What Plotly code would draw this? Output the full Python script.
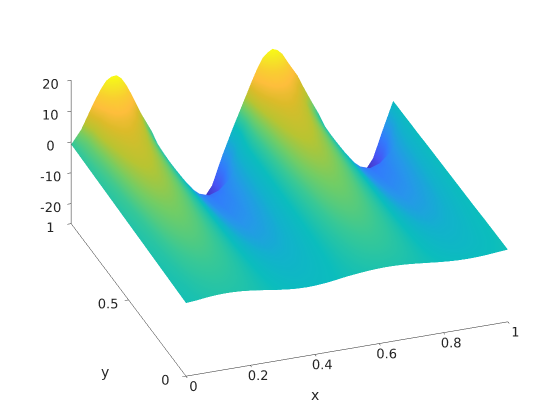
import plotly.graph_objects as go

x_values = [0, .03125, .0625, .078, .09375, .109, .125, .141, .15625, .172, .1875, .203, .21875, .25,
            .28125, .3125, .34375, .375, .40625, .4375, .46875, .5, .53125, .5625, .578, .59375, .609,
            .625, .641, .65625, .672, .6875, .703, .71875, .75, .78125, .8125, .84375, .875, .90625,
            .9375, .96875, 1]
y_values = [0, 0.1, 0.2, 0.3, 0.4, 0.5, 0.6, 0.7, 0.8, 0.85, 0.9, 0.95, 1]
z_rows = [
    [-2.8, -2.54, -2.15, -2, -1.9, -1.82, -1.8, -1.82, -1.9, -2, -2.15, -2.33, -2.54, -3, -3.49, -3.92, -4.2, -4.3, -4.2, -3.92, -3.49, -3, -2.66, -2.36, -2.25, -2.17, -2.12, -2.1, -2.12, -2.17, -2.25, -2.36, -2.5, -2.66, -3, -3.34, -3.64, -3.83, -3.9, -3.83, -3.64, -3.34, -3.1],
    [-2.6, -2.24, -1.58, -1.34, -1.16, -1.04, -1, -1.04, -1.16, -1.34, -1.58, -1.88, -2.24, -3, -3.84, -4.56, -5.02, -5.2, -5.02, -4.56, -3.84, -3, -2.24, -1.58, -1.34, -1.16, -1.04, -1, -1.04, -1.16, -1.34, -1.58, -1.88, -2.24, -3, -3.84, -4.56, -5.02, -5.2, -5.02, -4.56, -3.84, -3.2],
    [-2.4, -1.86, -.87, -.51, -.24, -.06, 0, -.06, -.24, -.51, -.87, -1.32, -1.86, -3, -4.22, -5.27, -5.94, -6.2, -5.94, -5.27, -4.22, -3, -1.86, -.87, -.51, -.24, -.06, 0, -.06, -.24, -.51, -.87, -1.32, -1.86, -3, -4.22, -5.27, -5.94, -6.2, -5.94, -5.27, -4.22, -3.3],
    [-2.2, -1.48, -.16, .32, .68, .92, 1, .92, .68, .32, -.16, -.76, -1.48, -3, -4.71, -6.2, -7.14, -7.5, -7.14, -6.2, -4.71, -3, -1.48, -.16, .32, .68, .92, 1, .92, .68, .32, -.16, -.76, -1.48, -3, -4.71, -6.2, -7.14, -7.5, -7.14, -6.2, -4.71, -3.5],
    [-2, -1.1, .55, 1.15, 1.6, 1.9, 2, 1.9, 1.6, 1.15, .55, -.2, -1.1, -3, -5.28, -7.26, -8.52, -9, -8.52, -7.26, -5.28, -3, -1.1, .55, 1.15, 1.6, 1.9, 2, 1.9, 1.6, 1.15, .55, -.2, -1.1, -3, -5.28, -7.26, -8.52, -9, -8.52, -7.26, -5.28, -3.6],
    [-1.8, -.72, 1.26, 1.98, 2.52, 2.88, 3, 2.88, 2.52, 1.98, 1.26, .36, -.72, -3, -5.85, -8.33, -9.9, -10.5, -9.9, -8.33, -5.85, -3, -.72, 1.26, 1.98, 2.52, 2.88, 3, 2.88, 2.52, 1.98, 1.26, .36, -.72, -3, -5.85, -8.33, -9.9, -10.5, -9.9, -8.33, -5.85, -3.7],
    [-1.6, -.23, 2.18, 3.06, 3.72, 4.15, 4.3, 4.15, 3.72, 3.06, 2.18, 1.09, -.23, -3, -6.42, -9.39, -11.28, -12, -11.28, -9.39, -6.42, -3, -.23, 2.18, 3.06, 3.72, 4.15, 4.3, 4.15, 3.72, 3.06, 2.18, 1.09, -.23, -3, -6.42, -9.39, -11.28, -12, -11.28, -9.39, -6.42, -3.8],
    [-1.4, .23, 3.04, 4.06, 4.82, 5.33, 5.5, 5.33, 4.82, 4.06, 3.04, 1.76, .23, -3, -6.99, -10.46, -12.66, -13.5, -12.66, -10.46, -6.99, -3, .23, 3.04, 4.06, 4.82, 5.33, 5.5, 5.33, 4.82, 4.06, 3.04, 1.76, .23, -3, -6.99, -10.46, -12.66, -13.5, -12.66, -10.46, -6.99, -3.9],
    [-1.2, .8, 4.1, 5.3, 6.2, 6.8, 7, 6.8, 6.2, 5.3, 4.1, 2.6, .8, -3, -7.56, -11.52, -14.04, -15, -14.04, -11.52, -7.56, -3, .8, 4.1, 5.3, 6.2, 6.8, 7, 6.8, 6.2, 5.3, 4.1, 2.6, .8, -3, -7.56, -11.52, -14.04, -15, -14.04, -11.52, -7.56, -4.1],
    [-1.1, 1.18, 4.81, 6.13, 7.12, 7.78, 8, 7.78, 7.12, 6.13, 4.81, 3.16, 1.18, -3, -8.13, -12.59, -15.42, -16.5, -15.42, -12.59, -8.13, -3, 1.18, 4.81, 6.13, 7.12, 7.78, 8, 7.78, 7.12, 6.13, 4.81, 3.16, 1.18, -3, -8.13, -12.59, -15.42, -16.5, -15.42, -12.59, -8.13, -4.1],
    [-1, 1.6, 5.8, 7.4, 8.7, 9.4, 9.7, 9.5, 8.7, 7.6, 6.08, 4.2, 1.95, -2.8, -8.88, -14.16, -17.52, -20.8, -19.8, -16.8, -9.3, -3.8, 1.5, 6.1, 7.6, 8.7, 9.4, 9.7, 9.5, 8.7, 7.6, 6.1, 4.2, 2.2, -2.8, -8.88, -14.16, -17.52, -20.8, -19.8, -16.8, -9.3, -4.2],
    [-.9, 1.9, 6.6, 9, 11.1, 12.5, 13.1, 12.8, 11.9, 10.2, 8.1, 5.6, 2.9, -2.4, -10, -16.6, -20.8, -25.1, -24.4, -21.3, -12.4, -5.4, 1.6, 8.1, 10.1, 11.9, 12.8, 13.1, 12.6, 11.6, 10, 8.1, 6.4, 4.6, -1.4, -8.9, -15.4, -20.8, -25.1, -24.4, -21.3, -12.4, -4.2],
    [-.8, 3.5, 10, 13, 15.8, 18, 19, 19.2, 17.9, 15.4, 12.2, 8.7, 5.2, -.8, -8.8, -15.8, -23.8, -26.5, -26.3, -21.8, -12.8, -4.8, 2.7, 10.2, 13.7, 16.7, 18.2, 19.2, 18.5, 17, 14.2, 11.7, 9.2, 5.7, -.8, -8.8, -14.8, -21.8, -26.5, -26.3, -21.8, -12.8, -4.3],
]
x_ticks = [0, 0.2, 0.4, 0.6, 0.8, 1]
y_ticks = [0, 0.5, 1]
z_ticks = [-20, -10, 0, 10, 20]
z_tick_labels = ["-20", "-10", "0", "10", "20"]
parula = [
    [0.0, "rgb(62,38,168)"], [0.127, "rgb(72,82,244)"], [0.254, "rgb(50,124,252)"],
    [0.333, "rgb(39,150,235)"], [0.429, "rgb(18,177,205)"], [0.5, "rgb(11,189,189)"],
    [0.571, "rgb(55,200,151)"], [0.635, "rgb(114,205,101)"], [0.698, "rgb(185,196,49)"],
    [0.762, "rgb(220,187,41)"], [0.825, "rgb(254,190,60)"], [0.889, "rgb(249,207,48)"],
    [0.952, "rgb(245,233,36)"], [1.0, "rgb(249,251,21)"],
]
axis_titles = [("x", 307, 387), ("y", 97, 364)]

tick_font = dict(family="DejaVu Sans", size=12.5, color="#262626")


def axis(ticks, low, high):
    return dict(
        title=dict(text=""),
        range=[low, high], tickvals=ticks, tickfont=tick_font, tickangle=0,
        showgrid=False, zeroline=False, showbackground=False, showspikes=False,
        showline=True, linecolor="#262626", linewidth=1,
        ticks="outside", ticklen=4, tickcolor="#262626", tickwidth=1,
    )


fig = go.Figure(go.Surface(
    x=x_values, y=y_values, z=z_rows, colorscale=parula, cmin=-26.5, cmax=19.2,
    showscale=False, lighting=dict(ambient=1, diffuse=0, specular=0, roughness=1, fresnel=0),
    contours=dict(x=dict(highlight=False), y=dict(highlight=False), z=dict(highlight=False)),
))
z_axis = axis(z_ticks, -26.5, 20)
z_axis["ticktext"] = z_tick_labels
fig.update_layout(
    width=560, height=420, paper_bgcolor="white", margin=dict(l=0, r=0, t=0, b=0),
    scene=dict(
        xaxis=axis(x_ticks, 0, 1), yaxis=axis(y_ticks, 0, 1), zaxis=z_axis,
        aspectmode="manual", aspectratio=dict(x=1.628, y=1.628, z=0.775),
        camera=dict(projection=dict(type="orthographic"),
                    eye=dict(x=-0.325, y=-0.889, z=0.4175), center=dict(x=-0.009, y=-0.003, z=-0.0885), up=dict(x=0, y=0, z=1)),
    ),
)
for text, px, py in axis_titles:
    fig.add_annotation(text=text, xref="paper", yref="paper", x=px / 560, y=1 - py / 420, showarrow=False,
                       xanchor="center", yanchor="middle", font=dict(family="DejaVu Sans", size=14, color="#262626"))
fig.write_html("out.html")
